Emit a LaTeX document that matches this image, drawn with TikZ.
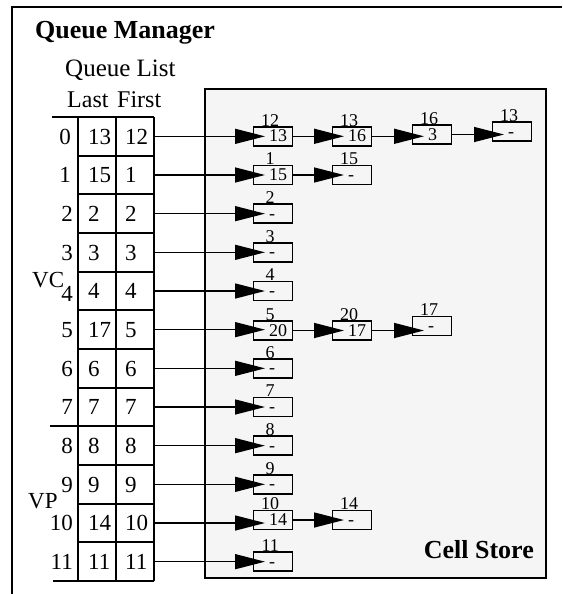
\documentclass[tikz,border=0pt]{standalone}
\usepackage{fontspec}
\setmainfont{Liberation Serif}
\usetikzlibrary{arrows.meta,calc}
\tikzset{
  tcell/.style={minimum width=38pt, minimum height=38.667pt, inner sep=0pt},
  grid/.style={line width=1.7pt},
  tnum/.style={font=\fontsize{23}{25}\selectfont, inner sep=0pt, anchor=base west},
  idx/.style={font=\fontsize{23}{25}\selectfont, inner sep=0pt, anchor=base east},
  cbox/.style={draw, line width=1.4pt, minimum width=39pt, minimum height=19pt, inner sep=0pt, anchor=west},
  ctext/.style={font=\fontsize{18}{20}\selectfont, inner sep=0pt, anchor=west, text height=11pt, text depth=0pt},
  clabel/.style={font=\fontsize{18}{20}\selectfont, inner sep=0pt, anchor=base},
  arr/.style={line width=1.4pt, -{Triangle[length=30pt,width=15pt]}},
  titletext/.style={font=\bfseries\fontsize{26}{28}\selectfont, inner sep=0pt},
  headtext/.style={font=\fontsize{24}{26}\selectfont, inner sep=0pt, anchor=base west},
}
\newcommand\qcell[5]{%
  \node[cbox] (#1) at (#2,#3) {};
  \node[clabel] (#1-lab) at ($(#1.north)+(-3,0)$) {#4};
  \node[ctext] (#1-txt) at ($(#1.west)+(16,0)$) {#5};
}
\begin{document}
\begin{tikzpicture}[x=1pt,y=-1pt]
\useasboundingbox (0,0) rectangle (562,594);
% outer frame (cropped)
\draw[line width=2pt] (562,7) -- (12,7) -- (12,594);
\node[titletext, anchor=base west] (qm) at (35,38) {Queue Manager};
% cell store
\node[draw, line width=1.6pt, fill=black!4, minimum width=341pt, minimum height=489pt,
      anchor=north west, inner sep=0pt] (cs) at (204,88) {};
\node[titletext, anchor=base east] (cslab) at (534,558) {Cell Store};
% queue list headings
\node[font=\fontsize{25}{27}\selectfont, inner sep=0pt, anchor=base west] (ql) at (65,77) {Queue List};
\node[headtext] (hlast) at (67,107) {Last};
\node[headtext] (hfirst) at (117,107) {First};
% table grid
\foreach \k in {1,...,11} {
  \draw[grid] (78,117+38.667*\k) -- (154,117+38.667*\k);
}
\draw[grid] (52,117) -- (154,117);
\draw[grid] (50,426.33) -- (78,426.33);
\draw[grid] (53,581) -- (154,581);
\draw[grid] (78,117) -- (78,581);
\draw[grid] (116,117) -- (116,581);
\draw[grid] (154,117) -- (154,581);
% table cells and values
\foreach \i/\l/\f in {0/13/12,1/15/1,2/2/2,3/3/3,4/4/4,5/17/5,6/6/6,7/7/7,8/8/8,9/9/9,10/14/10,11/11/11} {
  \pgfmathsetmacro\cy{117+38.667*(\i+0.5)}
  \pgfmathsetmacro\dy{\i==4 ? 10.5 : 7.8}
  \pgfmathsetmacro\ix{\i<2 ? 71 : 73}
  \node[tcell] (tl\i) at (97,\cy) {};
  \node[tcell] (tf\i) at (135,\cy) {};
  \node[tnum] (vl\i) at (88,\cy+7.8) {\l};
  \node[tnum] (vf\i) at (125,\cy+7.8) {\f};
  \node[idx] (n\i) at (\ix,\cy+\dy) {\i};
}
\node[tnum] (vc) at (32,287) {VC};
\node[tnum] (vp) at (28,508) {VP};
% cells
\qcell{b0a}{253}{136.3}{12}{13}
\qcell{b0b}{332}{136.3}{13}{16}
\qcell{b0c}{412}{134.5}{16}{3}
\qcell{b0d}{492}{131.5}{13}{-}
\qcell{b1a}{253}{175}{1}{15}
\qcell{b1b}{332}{175}{15}{-}
\qcell{b5a}{253}{330.5}{5}{20}
\qcell{b5b}{332}{330.5}{20}{17}
\qcell{b5c}{412}{326}{17}{-}
\qcell{b10a}{253}{520}{10}{14}
\qcell{b10b}{332}{520}{14}{-}
\foreach \i in {2,3,4,6,7,8,9,11} {
  \pgfmathsetmacro\cy{117+38.667*(\i+0.5)}
  \qcell{b\i a}{253}{\cy}{\i}{-}
}
% arrows from the table
\foreach \i in {0,1,...,11} {
  \draw[arr] (tf\i.east) -- ($(tf\i.east -| b\i a.west)+(12,0)$);
}
% arrows between cells
\draw[arr] (b0a.east) -- ($(b0a.east -| b0b.west)+(12,0)$);
\draw[arr] (b0b.east) -- ($(b0b.east -| b0c.west)+(12,0)$);
\draw[arr] (b0c.east) -- ($(b0c.east -| b0d.west)+(12,0)$);
\draw[arr] (b1a.east) -- ($(b1a.east -| b1b.west)+(12,0)$);
\draw[arr] (b5a.east) -- ($(b5a.east -| b5b.west)+(12,0)$);
\draw[arr] (b5b.east) -- ($(b5b.east -| b5c.west)+(12,0)$);
\draw[arr] (b10a.east) -- ($(b10a.east -| b10b.west)+(12,0)$);
\end{tikzpicture}
\end{document}
